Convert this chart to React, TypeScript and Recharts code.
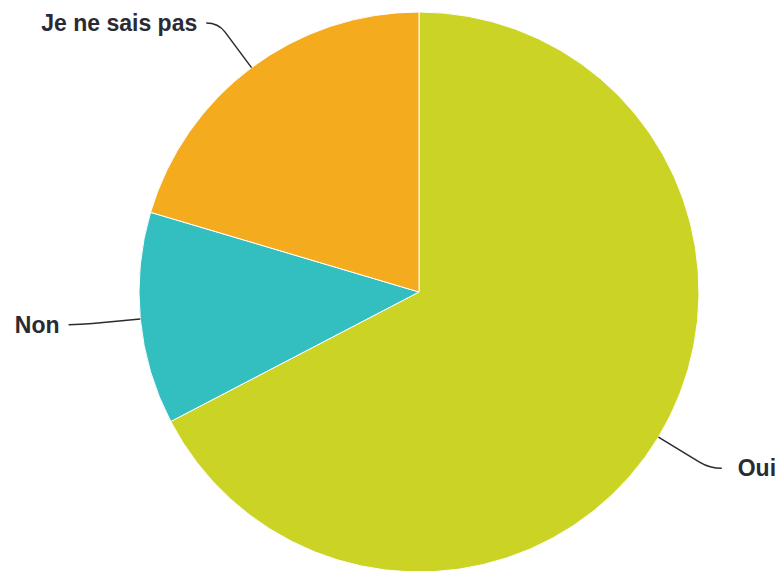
import { PieChart, Pie, Cell } from "recharts";

// Survey answers
const ANSWERS = ["Oui", "Non", "Je ne sais pas"];
const COUNTS = [33, 6, 10];
const COLOURS = ["#cbd325", "#33bec0", "#f5ab1e"];

const pieData = ANSWERS.map((name, i) => ({ name, value: COUNTS[i] }));

const RADIAN = Math.PI / 180;

// Highcharts-ish label: connector out from the slice edge, soft bend, then text
function renderLabel(props: any) {
  const { cx, cy, midAngle, outerRadius, name, index } = props;
  const dx = Math.cos(-midAngle * RADIAN);
  const dy = Math.sin(-midAngle * RADIAN);
  const right = dx > 0;
  const sx = cx + outerRadius * dx;
  const sy = cy + outerRadius * dy;
  let px = cx + (outerRadius + 60) * dx;
  let py = cy + (outerRadius + 60) * dy;
  if (py < 23) {
    // keep the label inside the top of the chart
    py = 23;
    px = sx + ((py - sy) / dy) * dx;
  }
  const bx = sx + (px - sx) * 0.8;
  const by = sy + (py - sy) * 0.8;
  const ex = px + (right ? 12 : -12);
  const path = `M${sx},${sy} L${bx},${by} Q${px},${py} ${ex},${py}`;
  const tx = ex + (right ? 16 : -9);
  return (
    <g key={`lbl-${index}`}>
      <path d={path} stroke="#2a2a33" strokeWidth={1.5} fill="none" />
      <text
        x={tx}
        y={py}
        textAnchor={right ? "start" : "end"}
        dominantBaseline="central"
        fill="#2a2a33"
        fontSize={23}
        fontWeight="bold"
        fontFamily="'Liberation Sans', Arial, sans-serif"
      >
        {name}
      </text>
    </g>
  );
}

export default function App() {
  return (
    <div style={{ position: "absolute", left: 0, top: 0, background: "#fff" }}>
      <PieChart width={782} height={571} margin={{ top: 0, right: 0, bottom: 0, left: 0 }}>
        <Pie
          data={pieData}
          dataKey="value"
          nameKey="name"
          cx={419}
          cy={292}
          outerRadius={280}
          startAngle={90}
          endAngle={-270}
          stroke="#fff"
          strokeWidth={1}
          label={renderLabel}
          labelLine={false}
          isAnimationActive={false}
        >
          {pieData.map((d, i) => (
            <Cell key={d.name} fill={COLOURS[i]} />
          ))}
        </Pie>
      </PieChart>
    </div>
  );
}
